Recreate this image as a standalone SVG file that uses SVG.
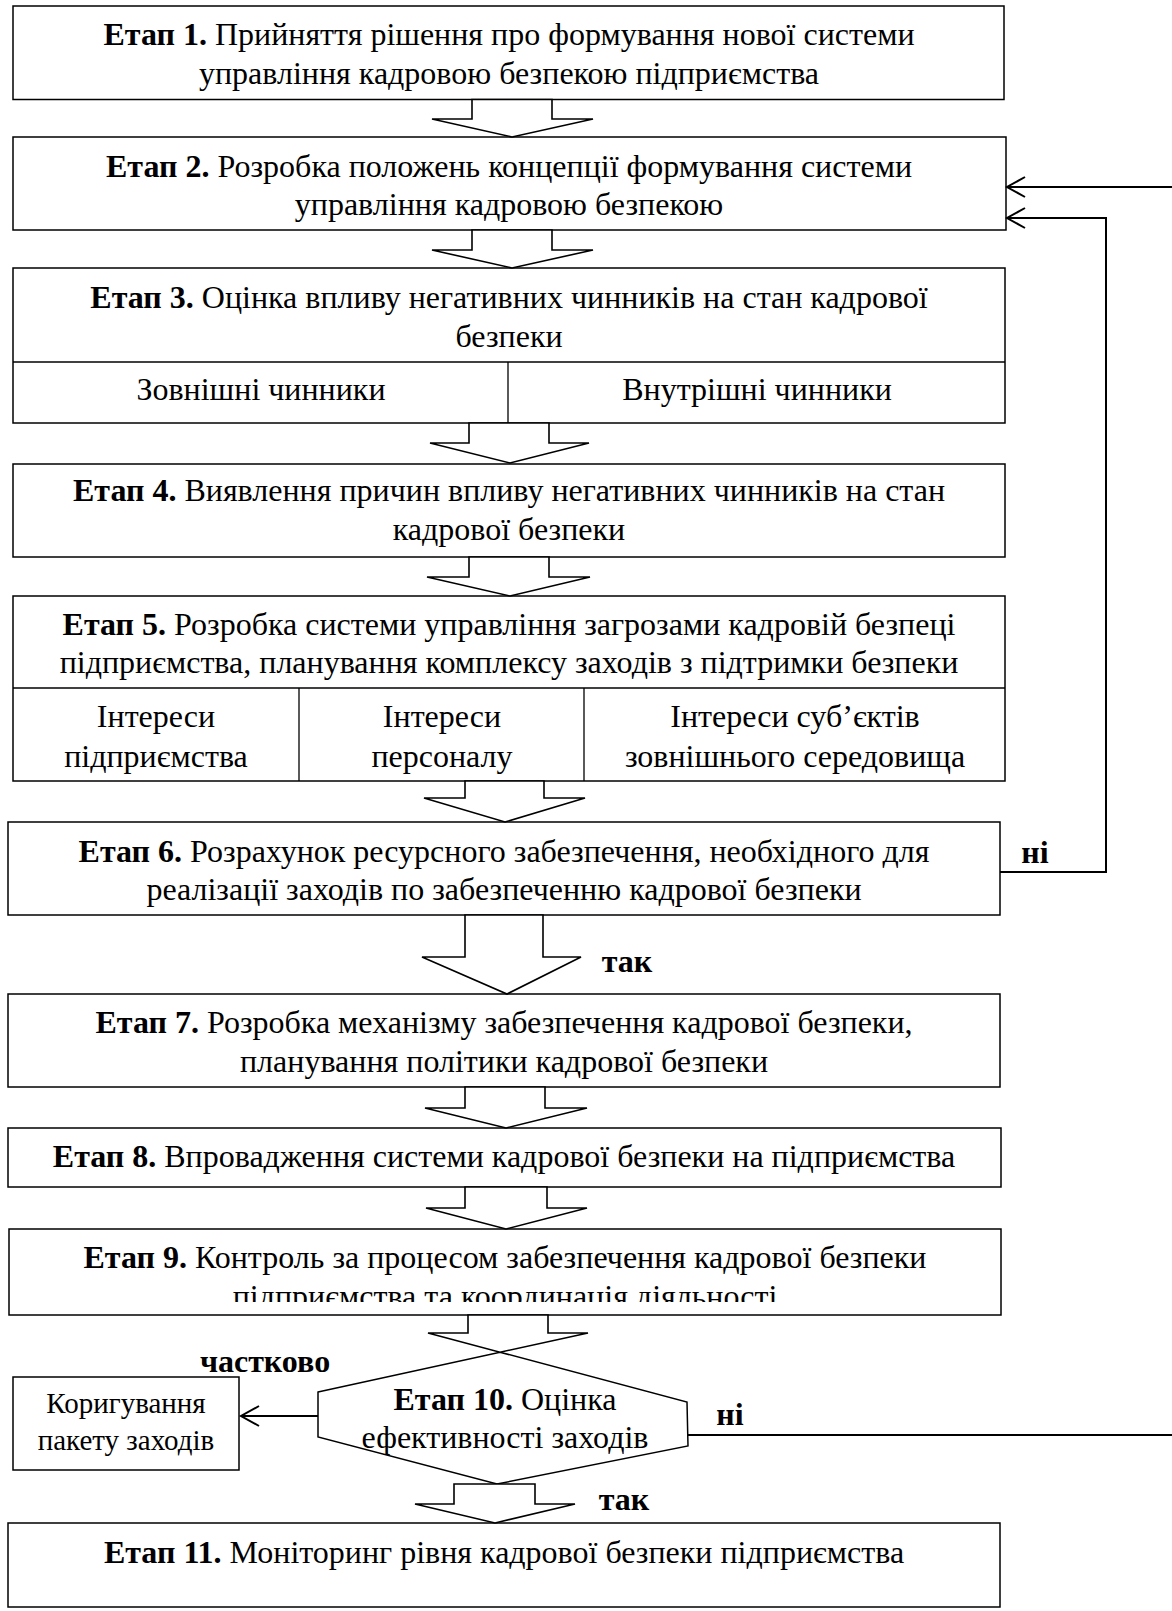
<svg xmlns="http://www.w3.org/2000/svg" width="1172" height="1611" viewBox="0 0 1172 1611">
<style>
.box{fill:#fff;stroke:#000;stroke-width:1.5}
.div{fill:none;stroke:#000;stroke-width:1.3}
.blk{fill:#fff;stroke:#000;stroke-width:1.6;stroke-linejoin:miter}
.ln{fill:none;stroke:#000;stroke-width:2}
text{font-family:"Liberation Serif","Times New Roman",serif;font-size:32px;text-anchor:middle;fill:#000}
.b{font-weight:bold}
.sm{font-size:29px}
</style>
<defs>
<marker id="ah" viewBox="-20 -12 22 24" refX="0" refY="0" markerWidth="22" markerHeight="24" markerUnits="userSpaceOnUse" orient="auto" style="overflow:visible">
<path d="M-18,-10 L0,0 L-18,10" fill="none" stroke="#000" stroke-width="2"/>
</marker>
<clipPath id="c9"><rect x="9" y="1229" width="993" height="73"/></clipPath>
</defs>

<g id="node-1">
<rect class="box" x="13" y="6" width="991" height="93.5"/>
<text x="509" y="45"><tspan class="b">Етап 1.</tspan> Прийняття рішення про формування нової системи</text>
<text x="509" y="83.5">управління кадровою безпекою підприємства</text>
</g>

<g id="node-2">
<rect class="box" x="13" y="137" width="993" height="93"/>
<text x="509" y="177"><tspan class="b">Етап 2.</tspan> Розробка положень концепції формування системи</text>
<text x="509" y="215">управління кадровою безпекою</text>
</g>

<g id="node-3">
<rect class="box" x="13" y="268" width="992" height="155"/>
<line class="div" x1="13" y1="362" x2="1005" y2="362"/>
<line class="div" x1="508" y1="362" x2="508" y2="423"/>
<text x="509" y="308"><tspan class="b">Етап 3.</tspan> Оцінка впливу негативних чинників на стан кадрової</text>
<text x="509" y="347">безпеки</text>
<text x="261" y="400">Зовнішні чинники</text>
<text x="757" y="400">Внутрішні чинники</text>
</g>

<g id="node-4">
<rect class="box" x="13" y="464" width="992" height="93"/>
<text x="509" y="501"><tspan class="b">Етап 4.</tspan> Виявлення причин впливу негативних чинників на стан</text>
<text x="509" y="540">кадрової безпеки</text>
</g>

<g id="node-5">
<rect class="box" x="13" y="596" width="992" height="185"/>
<line class="div" x1="13" y1="688" x2="1005" y2="688"/>
<line class="div" x1="299" y1="688" x2="299" y2="781"/>
<line class="div" x1="584" y1="688" x2="584" y2="781"/>
<text x="509" y="635"><tspan class="b">Етап 5.</tspan> Розробка системи управління загрозами кадровій безпеці</text>
<text x="509" y="673">підприємства, планування комплексу заходів з підтримки безпеки</text>
<text x="156" y="727">Інтереси</text>
<text x="156" y="767">підприємства</text>
<text x="442" y="727">Інтереси</text>
<text x="442" y="767">персоналу</text>
<text x="795" y="727">Інтереси суб’єктів</text>
<text x="795" y="767">зовнішнього середовища</text>
</g>

<g id="node-6">
<rect class="box" x="8" y="822" width="992" height="93"/>
<text x="504" y="862"><tspan class="b">Етап 6.</tspan> Розрахунок ресурсного забезпечення, необхідного для</text>
<text x="504" y="900">реалізації заходів по забезпеченню кадрової безпеки</text>
</g>

<g id="node-7">
<rect class="box" x="8" y="994" width="992" height="93"/>
<text x="504" y="1033"><tspan class="b">Етап 7.</tspan> Розробка механізму забезпечення кадрової безпеки,</text>
<text x="504" y="1072">планування політики кадрової безпеки</text>
</g>

<g id="node-8">
<rect class="box" x="8" y="1128" width="993" height="59"/>
<text x="504" y="1167"><tspan class="b">Етап 8.</tspan> Впровадження системи кадрової безпеки на підприємства</text>
</g>

<g id="node-9">
<rect class="box" x="9" y="1229" width="992" height="86"/>
<text x="505" y="1268"><tspan class="b">Етап 9.</tspan> Контроль за процесом забезпечення кадрової безпеки</text>
<text x="505" y="1307" clip-path="url(#c9)">підприємства та координація діяльності</text>
</g>

<g id="node-10">
<polygon class="box" points="318,1392 500,1352.2 687,1402 688,1446 497,1484 318,1437"/>
<text x="505" y="1410"><tspan class="b">Етап 10.</tspan> Оцінка</text>
<text x="505" y="1448">ефективності заходів</text>
</g>

<g id="node-korig">
<rect class="box" x="13" y="1377" width="226" height="93"/>
<text class="sm" x="126" y="1413">Коригування</text>
<text class="sm" x="126" y="1450">пакету заходів</text>
</g>

<g id="node-11">
<rect class="box" x="8" y="1523" width="992" height="84"/>
<text x="504" y="1563"><tspan class="b">Етап 11.</tspan> Моніторинг рівня кадрової безпеки підприємства</text>
</g>

<g id="connectors">
<polygon class="blk" points="472,99.5 472,119 432,119 512,137 593,119 552,119 552,99.5"/>
<polygon class="blk" points="472,230 472,250 432,250 512,268 593,250 552,250 552,230"/>
<polygon class="blk" points="469,423 469,443 430,443 510,463 589,443 549,443 549,423"/>
<polygon class="blk" points="469,557 469,577 427,577 510,596 590,577 549,577 549,557"/>
<polygon class="blk" points="465,781 465,798 424,798 505,822 585,798 544,798 544,781"/>
<polygon class="blk" points="465,915 465,957 422,957 507,994 581,957 543,957 543,915"/>
<polygon class="blk" points="465,1087 465,1108 425,1108 506,1128 587,1108 545,1108 545,1087"/>
<polygon class="blk" points="465,1187 465,1208 426,1208 506,1229 587,1208 547,1208 547,1187"/>
<polygon class="blk" points="468,1315 468,1333 428,1333 500,1352.2 588,1333 548,1333 548,1315"/>
<polygon class="blk" points="454,1484 454,1504 415,1504 495,1523 575,1504 535,1504 535,1484"/>
<path class="ln" d="M1172,187 H1007" marker-end="url(#ah)"/>
<path class="ln" d="M1000,872 H1106 V218 H1007" marker-end="url(#ah)"/>
<path class="ln" d="M688,1435 H1172"/>
<path class="ln" d="M318,1416 H241" marker-end="url(#ah)"/>
<text class="b" x="1035" y="863">ні</text>
<text class="b" x="627" y="972">так</text>
<text class="b" x="265" y="1372">частково</text>
<text class="b" x="730" y="1425">ні</text>
<text class="b" x="624" y="1510">так</text>
</g>
</svg>
